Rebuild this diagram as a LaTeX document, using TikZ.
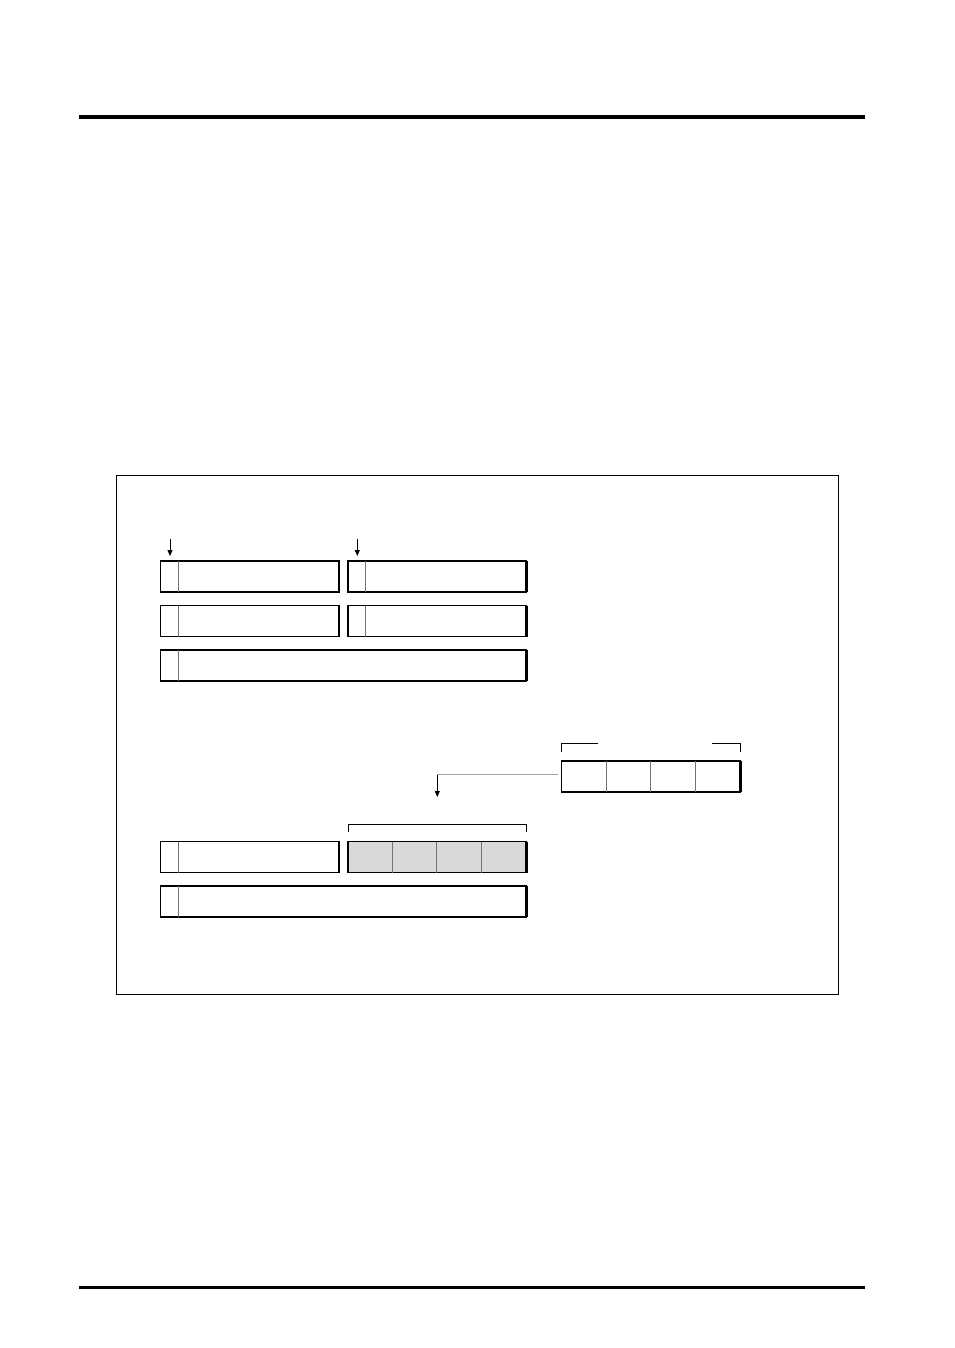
\documentclass[tikz,border=0pt]{standalone}
\usetikzlibrary{arrows.meta}

\begin{document}
\begin{tikzpicture}[x = 1pt, y = -1pt, >={Triangle[length=6pt, width=5pt]}]
  \tikzstyle{every node} = [inner sep = 0, outer sep = 0, anchor = north west]
  \tikzstyle{reg} = [draw, line width = 1.1pt, minimum height = 31pt]
  \tikzstyle{half} = [reg, minimum width = 178.5pt]
  \tikzstyle{full} = [reg, minimum width = 366pt]
  \tikzstyle{divider} = [line width = 1pt, color = black!55]
  \tikzstyle{link} = [line width = 1pt, color = black!35]
  \tikzstyle{rule} = [line width = 3.5pt]
\useasboundingbox (0,0) rectangle (954,1348);

\draw[rule] (79,117) -- (865,117);
\draw[rule] (79,1287.5) -- (865,1287.5);
\draw[line width = 1pt] (116,475.5) rectangle (838,994);

% upper group
\node[half] (a1) at (160.5,561) {};
\node[half] (b1) at (348,561) {};
\node[half] (a2) at (160.5,605.5) {};
\node[half] (b2) at (348,605.5) {};
\node[full] (c1) at (160.5,650) {};

\coordinate (inA) at (170,539);
\coordinate (inB) at (357.3,539);
\draw[->, line width = 0.9pt, shorten >= 5pt] (inA) -- (inA |- a1.north);
\draw[->, line width = 0.9pt, shorten >= 5pt] (inB) -- (inB |- b1.north);

% nibble
\node[reg, minimum width = 179pt] (bits) at (561.5,761) {};
\draw[line width = 1pt] ([yshift=9pt]bits.north west) -- ++(0,-9) -- ++(36.5,0);
\draw[line width = 1pt] ([yshift=9pt]bits.north east) -- ++(0,-9) -- ++(-28.5,0);

\coordinate (turn) at (437.3,774.7);
\coordinate (drop) at (437.3,797);
\draw[link] ([xshift=-3.5pt, yshift=1.8pt]bits.west) -- (turn);
\draw[->, line width = 0.9pt] (turn) -- (drop);

% lower group
\node[half] (a3) at (160.5,841.7) {};
\node[half, fill = black!15] (sel) at (348,841.7) {};
\node[full] (c2) at (160.5,886) {};
\draw[line width = 1pt] ([yshift=9.5pt]sel.north west) -- ++(0,-7.5) -| ([yshift=9.5pt]sel.north east);

\foreach \n in {a1,b1,a2,b2,c1,a3,c2}
  \draw[divider] (\n.north west) ++(17.8,0) -- ++(0,31);
\foreach \x in {44.3,88.7,133.7}
  \draw[divider] (sel.north west) ++(\x,0) -- ++(0,31);
\foreach \x in {44.5,89.2,134.2}
  \draw[divider] (bits.north west) ++(\x,0) -- ++(0,31);
\foreach \n in {a1,b1,a2,b2,c1,bits,a3,sel,c2}
  \draw[line width = 2.2pt] (\n.north east) -- (\n.south east);

\end{tikzpicture}
\end{document}
